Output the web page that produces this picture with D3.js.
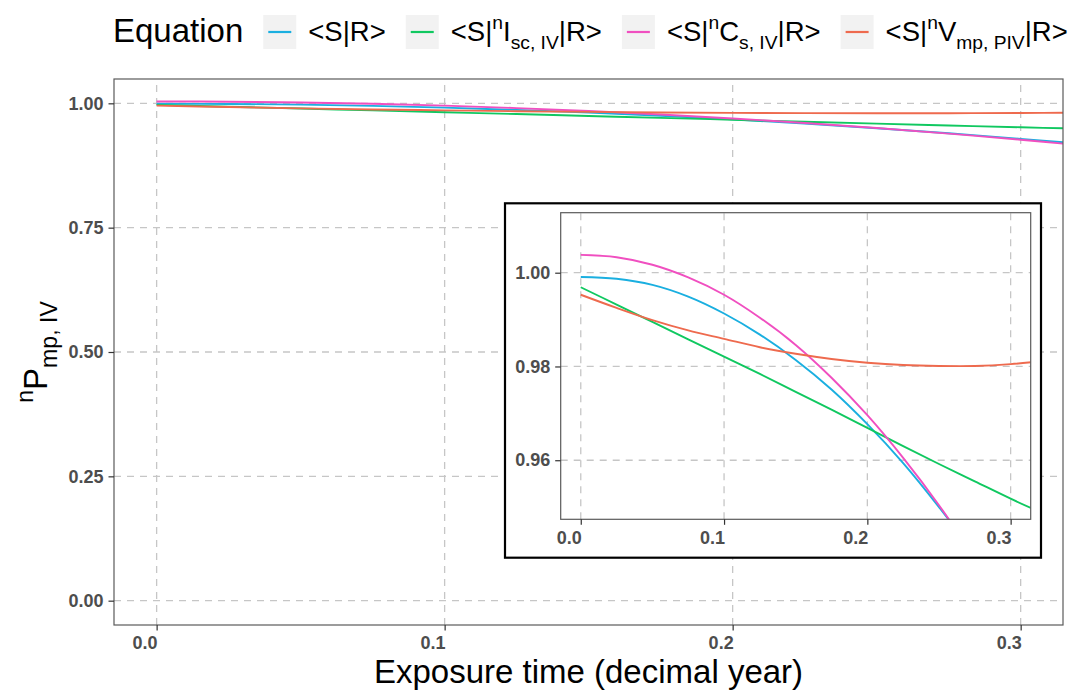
<!DOCTYPE html>
<html>
<head>
<meta charset="utf-8">
<script src="https://cdn.jsdelivr.net/npm/d3@7"></script>
<style>
  html, body { margin: 0; padding: 0; background: #fff; }
  svg { display: block; font-family: "Liberation Sans", Arial, Helvetica, sans-serif; }
</style>
</head>
<body>
<svg id="chart" width="1069" height="693"></svg>
<script>
// ---------------- data ----------------
const exposureTime = [0, 0.025, 0.05, 0.075, 0.1, 0.125, 0.15, 0.175, 0.2, 0.225, 0.25, 0.275, 0.3, 0.32];
const sR    = [0.9991, 0.9987, 0.9974, 0.9949, 0.9913, 0.9868, 0.9814, 0.9751, 0.9677, 0.9594, 0.9500, 0.9398, 0.9285, 0.9195];
const sIsc  = [0.9969, 0.9932, 0.9895, 0.9858, 0.9821, 0.9784, 0.9746, 0.9708, 0.9669, 0.9630, 0.9592, 0.9555, 0.9518, 0.9490];
const sCs   = [1.0038, 1.0033, 1.0017, 0.9990, 0.9953, 0.9904, 0.9846, 0.9776, 0.9696, 0.9605, 0.9504, 0.9391, 0.9268, 0.9162];
const sVmp  = [0.9953, 0.9925, 0.9899, 0.9877, 0.9859, 0.9841, 0.9827, 0.9816, 0.9808, 0.9803, 0.9801, 0.9801, 0.9805, 0.9811];

const seriesKeys = ["sR", "sIsc", "sCs", "sVmp"];
const seriesColors = ["#1AAFE0", "#10C860", "#F04FC0", "#EE6A4E"];
// legend labels as rich-text segments: [text, kind]
const seriesLabels = [
  [["<S|R>", "n"]],
  [["<S|", "n"], ["n", "sup"], ["I", "n"], ["sc, IV", "sub"], ["|R>", "n"]],
  [["<S|", "n"], ["n", "sup"], ["C", "n"], ["s, IV", "sub"], ["|R>", "n"]],
  [["<S|", "n"], ["n", "sup"], ["V", "n"], ["mp, PIV", "sub"], ["|R>", "n"]]
];
const legendTitle = "Equation";
const xTitle = "Exposure time (decimal year)";
const yTitleSegs = [["n", "sup"], ["P", "n"], ["mp, IV", "sub"]];

const mainXTicks = [0, 0.1, 0.2, 0.3];
const mainYTicks = [0, 0.25, 0.5, 0.75, 1.0];
const insetXTicks = [0, 0.1, 0.2, 0.3];
const insetYTicks = [0.96, 0.98, 1.00];

const seriesData = { sR, sIsc, sCs, sVmp };

// ---------------- helpers ----------------
const svg = d3.select("#chart");
const FONT = '"Liberation Sans", Arial, Helvetica, sans-serif';

function richText(sel, segs, size) {
  let cur = 0;
  segs.forEach(([t, kind]) => {
    let fs = size, shift = 0;
    if (kind === "sup") { fs = size * 0.7; shift = -size * 0.42; }
    if (kind === "sub") { fs = size * 0.7; shift = size * 0.3; }
    sel.append("tspan")
      .attr("font-size", fs)
      .attr("dy", shift - cur)
      .text(t);
    cur = shift;
  });
  return sel;
}

function panel(opts) {
  const { x, y, xTicks, yTicks, xFmt, yFmt, id } = opts;
  const g = svg.append("g");
  const [x0, x1] = x.range();
  const [y0, y1] = y.range();

  g.append("clipPath").attr("id", id)
    .append("rect").attr("x", x0).attr("y", y1).attr("width", x1 - x0).attr("height", y0 - y1);

  // grid
  const grid = g.append("g").attr("stroke", "#C6C6C6").attr("stroke-width", 1.3).attr("stroke-dasharray", "7,6");
  grid.selectAll("line.gx").data(xTicks).join("line")
    .attr("class", "gx")
    .attr("x1", d => x(d)).attr("x2", d => x(d)).attr("y1", y0).attr("y2", y1);
  grid.selectAll("line.gy").data(yTicks).join("line")
    .attr("class", "gy")
    .attr("y1", d => y(d)).attr("y2", d => y(d)).attr("x1", x0).attr("x2", x1);

  // lines
  const line = d3.line().x(d => x(d[0])).y(d => y(d[1])).curve(d3.curveCatmullRom.alpha(0.5));
  const lg = g.append("g").attr("clip-path", `url(#${id})`);
  seriesKeys.forEach((k, i) => {
    lg.append("path")
      .datum(exposureTime.map((t, j) => [t, seriesData[k][j]]))
      .attr("fill", "none")
      .attr("stroke", seriesColors[i])
      .attr("stroke-width", 1.9)
      .attr("d", line);
  });

  // border
  g.append("rect").attr("x", x0).attr("y", y1).attr("width", x1 - x0).attr("height", y0 - y1)
    .attr("fill", "none").attr("stroke", "#5a5a5a").attr("stroke-width", 1.2);

  // axes
  const ax = g.append("g").attr("transform", `translate(0,${y0})`)
    .call(d3.axisBottom(x).tickValues(xTicks).tickFormat(d3.format(xFmt)).tickSize(5.5).tickPadding(6));
  ax.select(".domain").remove();
  ax.selectAll(".tick line").attr("stroke", "#333").attr("stroke-width", 1.2);
  ax.selectAll(".tick text").attr("text-anchor", "end").attr("x", 0.5)
    .attr("font-family", FONT).attr("font-size", 18).attr("font-weight", "bold").attr("fill", "#4D4D4D");

  const ay = g.append("g").attr("transform", `translate(${x0},0)`)
    .call(d3.axisLeft(y).tickValues(yTicks).tickFormat(d3.format(yFmt)).tickSize(5.5).tickPadding(5));
  ay.select(".domain").remove();
  ay.selectAll(".tick line").attr("stroke", "#333").attr("stroke-width", 1.2);
  ay.selectAll(".tick text")
    .attr("font-family", FONT).attr("font-size", 18).attr("font-weight", "bold").attr("fill", "#4D4D4D");
  return g;
}

// ---------------- main panel ----------------
const xMain = d3.scaleLinear().domain([-0.0148, 0.3147]).range([114, 1063]);
const yMain = d3.scaleLinear().domain([-0.0489, 1.0489]).range([625, 79]);
panel({ x: xMain, y: yMain, xTicks: mainXTicks, yTicks: mainYTicks, xFmt: ".1f", yFmt: ".2f", id: "clipMain" });

// axis titles
svg.append("text")
  .attr("x", (114 + 1063) / 2).attr("y", 683)
  .attr("text-anchor", "middle").attr("font-size", 33).attr("fill", "#000")
  .text(xTitle);

const yt = svg.append("text")
  .attr("transform", `translate(47,${(79 + 625) / 2}) rotate(-90)`)
  .attr("text-anchor", "middle").attr("font-size", 33).attr("fill", "#000");
richText(yt, yTitleSegs, 33);

// ---------------- inset ----------------
svg.append("rect").attr("x", 505).attr("y", 203.3).attr("width", 536).attr("height", 354.4)
  .attr("fill", "#fff").attr("stroke", "#000").attr("stroke-width", 2.2);
const xIn = d3.scaleLinear().domain([-0.014, 0.314]).range([560.7, 1030.7]);
const yIn = d3.scaleLinear().domain([0.9474, 1.0128]).range([519.3, 212.7]);
panel({ x: xIn, y: yIn, xTicks: insetXTicks, yTicks: insetYTicks, xFmt: ".1f", yFmt: ".2f", id: "clipInset" });

// ---------------- legend ----------------
const leg = svg.append("g");
const lt = leg.append("text").attr("x", 113).attr("y", 42).attr("font-size", 33).attr("fill", "#000").text(legendTitle);
let cx = 113 + lt.node().getComputedTextLength() + 20;
seriesLabels.forEach((segs, i) => {
  leg.append("rect").attr("x", cx).attr("y", 15).attr("width", 33).attr("height", 34).attr("fill", "#F2F2F2");
  leg.append("line").attr("x1", cx + 5).attr("x2", cx + 28).attr("y1", 32).attr("y2", 32)
    .attr("stroke", seriesColors[i]).attr("stroke-width", 2.2);
  const t = leg.append("text").attr("x", cx + 33 + 12).attr("y", 41).attr("font-size", 27.5).attr("fill", "#000");
  richText(t, segs, 27.5);
  cx = cx + 33 + 12 + t.node().getComputedTextLength() + 20;
});
</script>
</body>
</html>
